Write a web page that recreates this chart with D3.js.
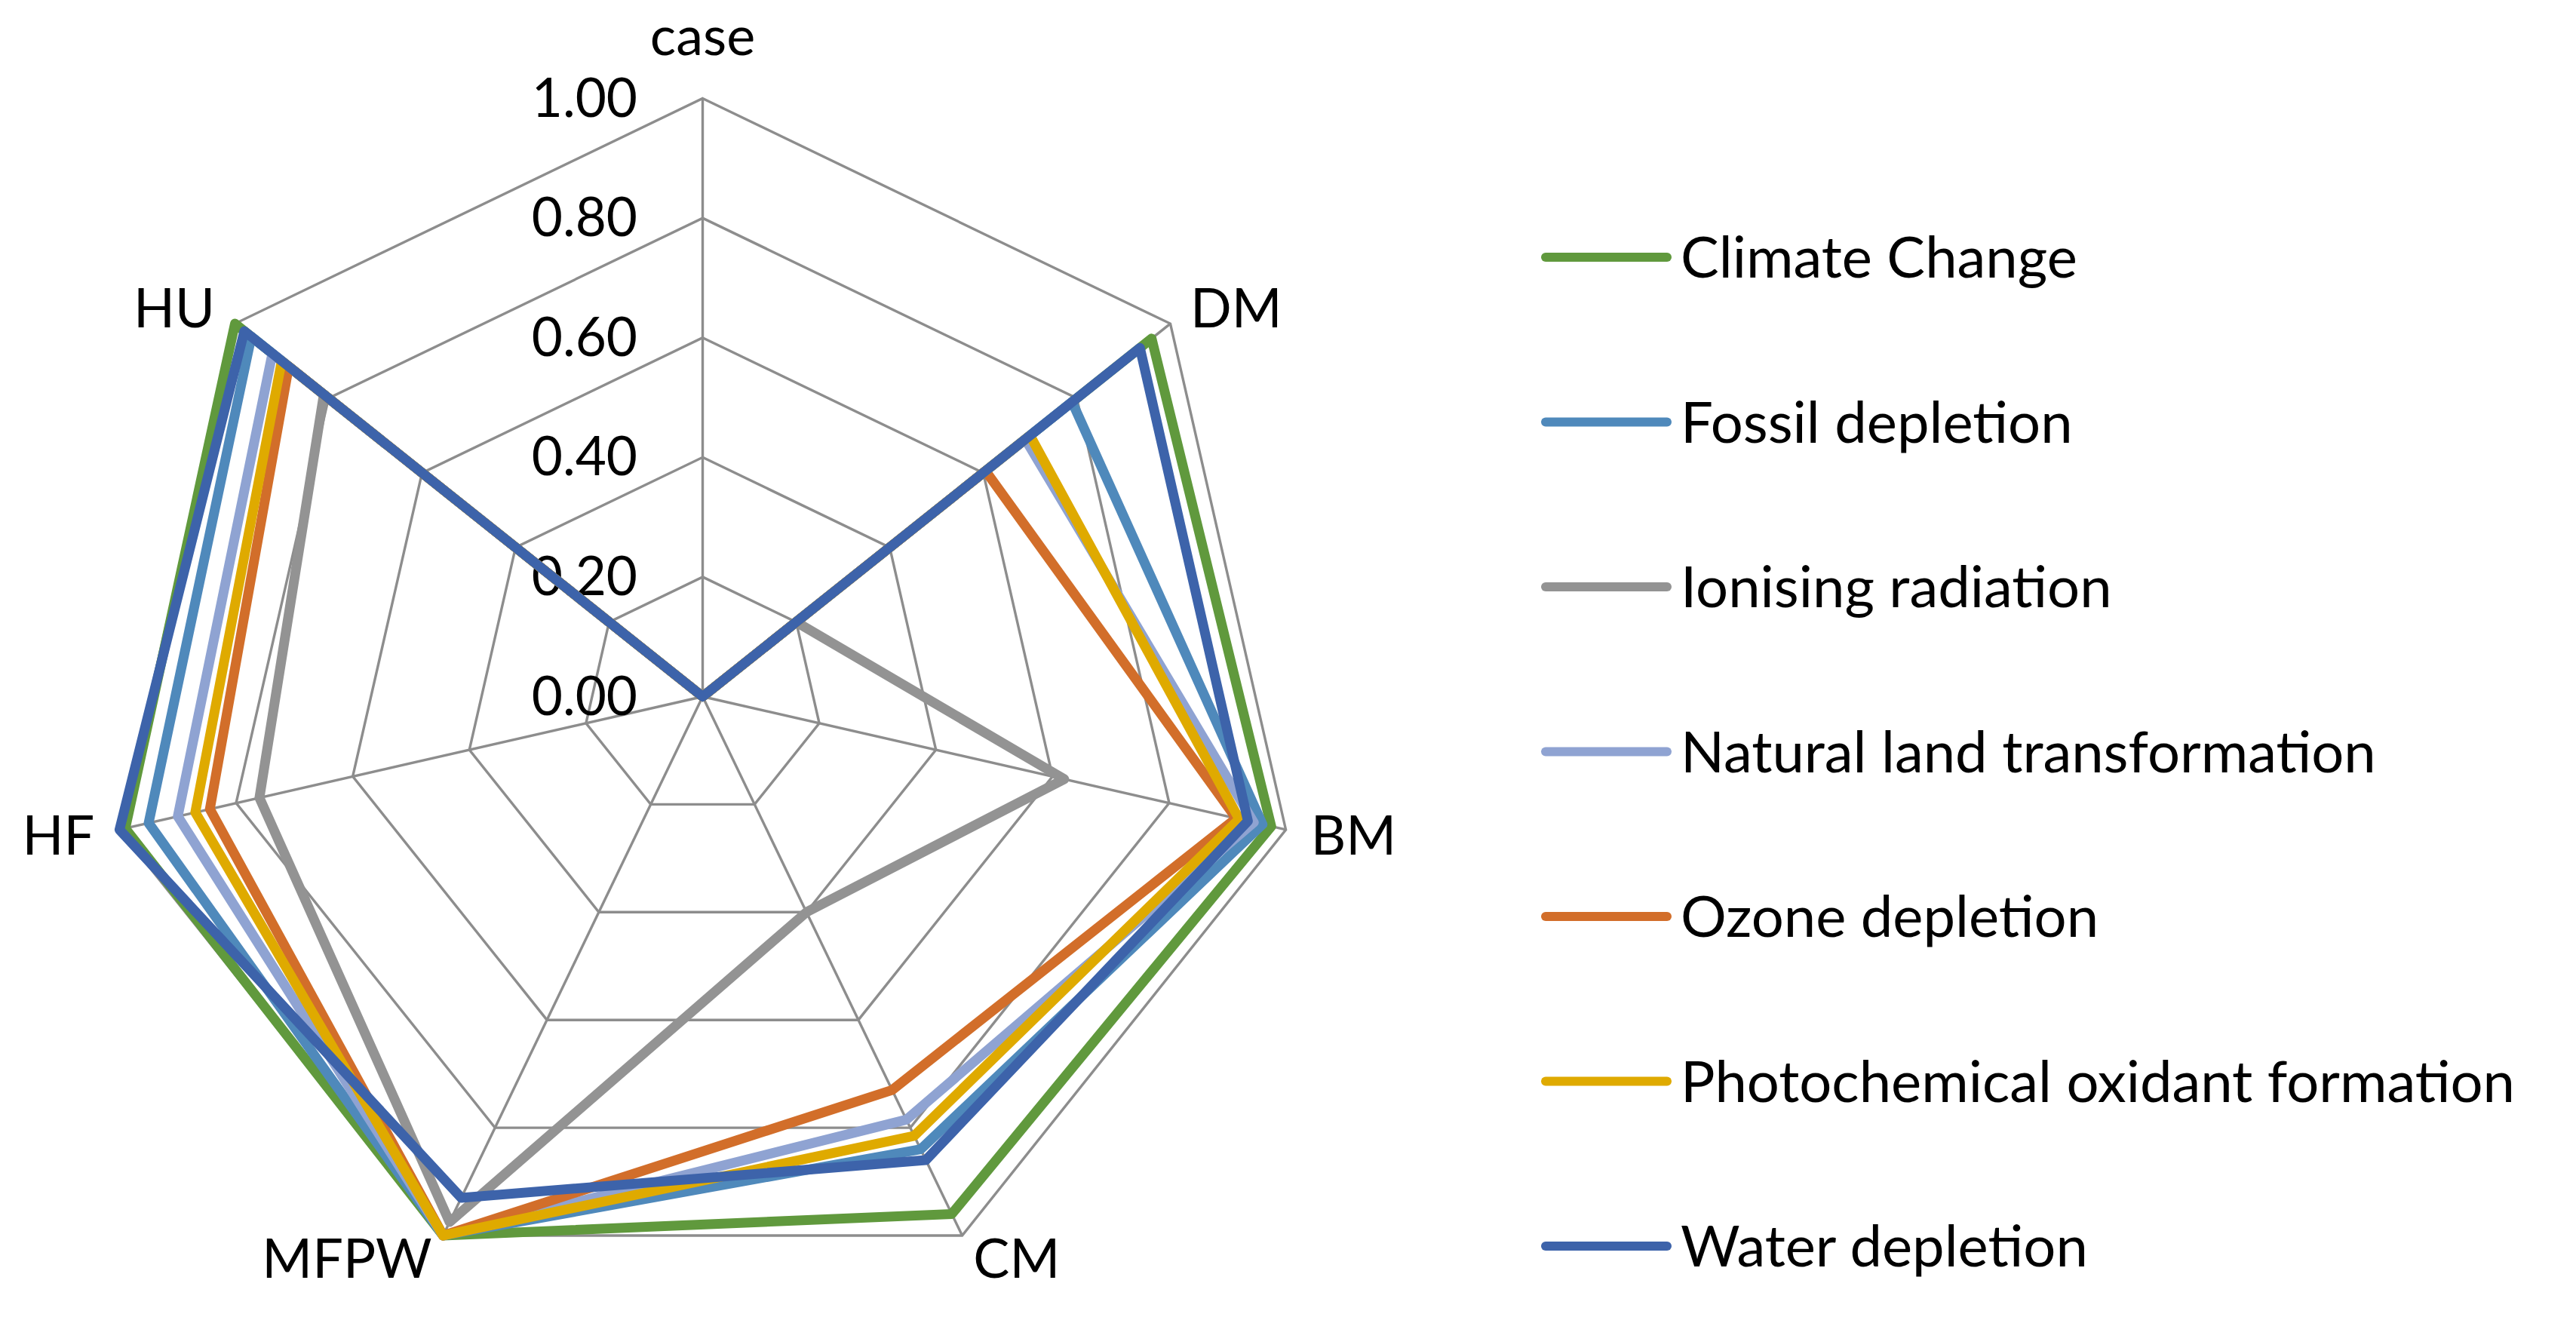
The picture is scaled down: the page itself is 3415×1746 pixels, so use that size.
<!DOCTYPE html>
<html>
<head>
<meta charset="utf-8">
<script src="https://cdn.jsdelivr.net/npm/d3@7"></script>
<style>
  html, body { margin: 0; padding: 0; background: #ffffff; }
  svg { display: block; }
  text { font-family: Lato, "Open Sans", sans-serif; fill: #000; }
</style>
</head>
<body>
<svg id="chart" width="3415" height="1746"></svg>
<script>
// ---------- data ----------
const axes = ["case", "DM", "BM", "CM", "MFPW", "HF", "HU"];
const seriesNames = [
  "Climate Change",
  "Fossil depletion",
  "Ionising radiation",
  "Natural land transformation",
  "Ozone depletion",
  "Photochemical oxidant formation",
  "Water depletion"
];
const climateChange      = [0, 0.96,  0.975, 0.96,  1.00,  0.99,  1.00];
const fossilDepletion    = [0, 0.79,  0.96,  0.84,  1.00,  0.95,  0.965];
const ionisingRadiation  = [0, 0.20,  0.62,  0.40,  0.975, 0.76,  0.81];
const naturalLand        = [0, 0.69,  0.945, 0.785, 1.00,  0.90,  0.92];
const ozoneDepletion     = [0, 0.605, 0.915, 0.73,  1.00,  0.845, 0.885];
const photochemical      = [0, 0.70,  0.92,  0.815, 1.00,  0.87,  0.90];
const waterDepletion     = [0, 0.935, 0.935, 0.86,  0.93,  1.00,  0.98];
const seriesValues = [climateChange, fossilDepletion, ionisingRadiation, naturalLand,
                      ozoneDepletion, photochemical, waterDepletion];
const seriesColors = ["#60993D", "#4F89BB", "#939393", "#8FA3D2", "#D26E2A", "#DFAA00", "#3D63AA"];
const tickValues = [0, 0.2, 0.4, 0.6, 0.8, 1.0];
const tickLabels = ["0.00", "0.20", "0.40", "0.60", "0.80", "1.00"];

// ---------- layout ----------
const cx = 931.5, cy = 923.5, R = 793;
const svg = d3.select("#chart");
svg.append("rect").attr("width", 3415).attr("height", 1746).attr("fill", "#fff");

const r = d3.scaleLinear().domain([0, 1]).range([0, R]);
const angle = d3.scaleLinear().domain([0, axes.length]).range([0, 2 * Math.PI]);

const g = svg.append("g").attr("transform", `translate(${cx},${cy})`);

// grid rings
const ringLine = d3.lineRadial()
  .angle((d, i) => angle(i))
  .radius(d => r(d))
  .curve(d3.curveLinearClosed);

const gridColor = "#8D8D8D";
g.append("g").selectAll("path")
  .data(tickValues.filter(t => t > 0))
  .join("path")
  .attr("d", t => ringLine(axes.map(() => t)))
  .attr("fill", "none")
  .attr("stroke", gridColor)
  .attr("stroke-width", 3.4)
  .attr("stroke-linejoin", "miter");

// spokes
g.append("g").selectAll("line")
  .data(axes)
  .join("line")
  .attr("x1", 0).attr("y1", 0)
  .attr("x2", (d, i) => r(1) * Math.sin(angle(i)))
  .attr("y2", (d, i) => -r(1) * Math.cos(angle(i)))
  .attr("stroke", gridColor)
  .attr("stroke-width", 3.4);

// tick labels
const tickFont = 71;
g.append("g").selectAll("text")
  .data(tickValues)
  .join("text")
  .attr("x", -86.5)
  .attr("y", d => -r(d) + 0.34 * tickFont)
  .attr("text-anchor", "end")
  .attr("font-size", tickFont)
  .text((d, i) => tickLabels[i]);

// category labels
const labelFont = 72;
g.append("g").selectAll("text")
  .data(axes)
  .join("text")
  .attr("font-size", labelFont)
  .each(function (d, i) {
    const a = angle(i);
    const s = Math.sin(a), c = Math.cos(a);
    const p = r(1) + 34;
    const t = d3.select(this);
    if (Math.abs(s) < 0.1 && c > 0) {
      t.attr("x", 0).attr("y", -r(1) - 58).attr("text-anchor", "middle");
    } else {
      t.attr("x", p * s)
       .attr("y", -p * c + 0.358 * labelFont)
       .attr("text-anchor", s > 0.1 ? "start" : (s < -0.1 ? "end" : "middle"));
    }
    t.text(d);
  });

// series
g.append("g").selectAll("path")
  .data(seriesValues)
  .join("path")
  .attr("d", vals => ringLine(vals))
  .attr("fill", "none")
  .attr("stroke", (d, i) => seriesColors[i])
  .attr("stroke-width", 13)
  .attr("stroke-linejoin", "round")
  .attr("stroke-linecap", "round");

// legend
const legendFont = 76;
const legendY = d3.scalePoint().domain(seriesNames).range([341, 1652]);
const lg = svg.append("g");
const items = lg.selectAll("g").data(seriesNames).join("g")
  .attr("transform", d => `translate(0,${legendY(d)})`);
items.append("line")
  .attr("x1", 2049).attr("x2", 2210)
  .attr("y1", 0).attr("y2", 0)
  .attr("stroke", (d, i) => seriesColors[i])
  .attr("stroke-width", 12)
  .attr("stroke-linecap", "round");
items.append("text")
  .attr("x", 2228)
  .attr("y", 0.358 * legendFont)
  .attr("font-size", legendFont)
  .text(d => d);
</script>
</body>
</html>
